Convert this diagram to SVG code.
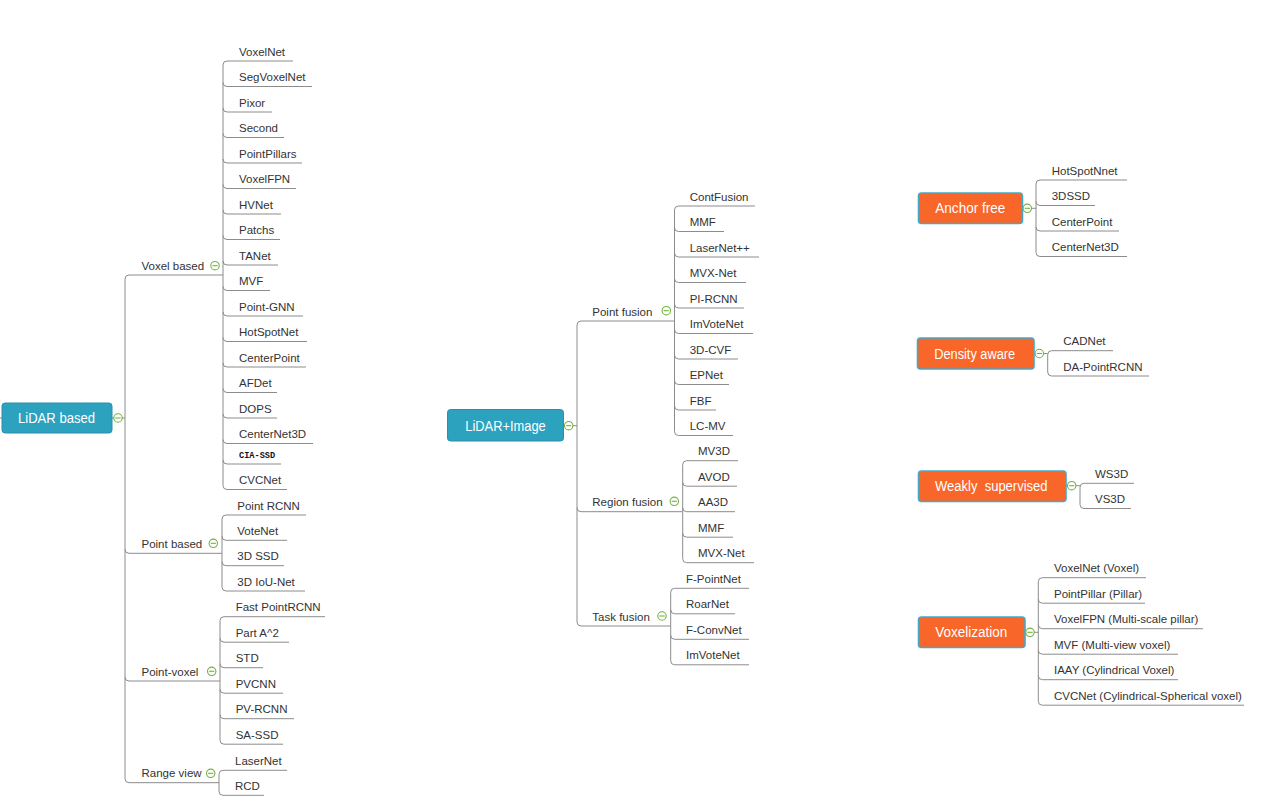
<svg xmlns="http://www.w3.org/2000/svg" width="1280" height="810" viewBox="0 0 1280 810">
<style>
.t{font-family:"Liberation Sans",Arial,sans-serif;font-size:11.5px;fill:#333}
.m{font-family:"Liberation Mono","DejaVu Sans Mono",monospace;font-size:8.6px;font-weight:bold;fill:#111}
.b{font-family:"Liberation Sans",Arial,sans-serif;font-size:14px;fill:#fff;text-anchor:middle}
.ln{fill:none;stroke:#8c8c8c;stroke-width:1}
.rt{fill:#2da2bf;stroke:#2a8faa;stroke-width:1}
.or{fill:#f8662a;stroke:#45a8c6;stroke-width:1.6}
</style>
<defs>
<g id="ic"><circle r="4.2" fill="#fff" stroke="#72b43e" stroke-width="1.1"/><line x1="-2.6" x2="2.6" y1="0" y2="0" stroke="#72b43e" stroke-width="1.1"/></g>
</defs>
<rect width="1280" height="810" fill="#fff"/>
<g id="connectors" class="ln">
<path d="M0,418H2M112,418H125"/>
<path d="M125,279V778.7M125,279Q125,275 129,275H223M125,549.3Q125,553.3 129,553.3H222M125,677Q125,681 129,681H220M125,778.7Q125,782.7 129,782.7H219"/>
<path d="M223,65V485.5M223,65Q223,61 227,61H293M223,82.5Q223,86.5 227,86.5H312M223,108Q223,112 227,112H272M223,133.5Q223,137.5 227,137.5H284M223,159Q223,163 227,163H302M223,184.5Q223,188.5 227,188.5H296M223,210Q223,214 227,214H281M223,235.5Q223,239.5 227,239.5H280M223,261Q223,265 227,265H278M223,286.5Q223,290.5 227,290.5H270M223,312Q223,316 227,316H303M223,337.5Q223,341.5 227,341.5H307M223,363Q223,367 227,367H306M223,388.5Q223,392.5 227,392.5H277M223,414Q223,418 227,418H277M223,439.5Q223,443.5 227,443.5H313M223,460Q223,464 227,464H281M223,485.5Q223,489.5 227,489.5H287"/>
<path d="M222,519V587M222,519Q222,515 226,515H306M222,536.3Q222,540.3 226,540.3H287M222,561.7Q222,565.7 226,565.7H284M222,587Q222,591 226,591H305"/>
<path d="M220,620.7V740.2M220,620.7Q220,616.7 224,616.7H325M220,638.2Q220,642.2 224,642.2H289M220,663.7Q220,667.7 224,667.7H263M220,689.2Q220,693.2 224,693.2H283M220,714.7Q220,718.7 224,718.7H294M220,740.2Q220,744.2 224,744.2H283"/>
<path d="M219,774.3V791.3M219,774.3Q219,770.3 223,770.3H287M219,791.3Q219,795.3 223,795.3H264"/>
<path d="M563,425.7H577M577,325V622M577,325Q577,321 581,321H674.5M577,507.7Q577,511.7 581,511.7H682.7M577,622Q577,626 581,626H670.7"/>
<path d="M674.5,210V431.5M674.5,210Q674.5,206 678.5,206H755M674.5,227.5Q674.5,231.5 678.5,231.5H724M674.5,253Q674.5,257 678.5,257H759M674.5,278.5Q674.5,282.5 678.5,282.5H746M674.5,304Q674.5,308 678.5,308H744M674.5,329.5Q674.5,333.5 678.5,333.5H753M674.5,355Q674.5,359 678.5,359H738M674.5,380.5Q674.5,384.5 678.5,384.5H729M674.5,406Q674.5,410 678.5,410H716M674.5,431.5Q674.5,435.5 678.5,435.5H733"/>
<path d="M682.7,464.7V558.7M682.7,464.7Q682.7,460.7 686.7,460.7H738M682.7,482.2Q682.7,486.2 686.7,486.2H737M682.7,507.7Q682.7,511.7 686.7,511.7H735M682.7,533.2Q682.7,537.2 686.7,537.2H733M682.7,558.7Q682.7,562.7 686.7,562.7H754"/>
<path d="M670.7,592.3V660.8M670.7,592.3Q670.7,588.3 674.7,588.3H749M670.7,609.8Q670.7,613.8 674.7,613.8H735M670.7,635.3Q670.7,639.3 674.7,639.3H749M670.7,660.8Q670.7,664.8 674.7,664.8H749"/>
<path d="M1022.5,208.3H1036M1036,184V252.5M1036,184Q1036,180 1040,180H1127M1036,201.5Q1036,205.5 1040,205.5H1095M1036,227Q1036,231 1040,231H1119M1036,252.5Q1036,256.5 1040,256.5H1127"/>
<path d="M1034,353.5H1047.7M1047.7,354.7V372M1047.7,354.7Q1047.7,350.7 1051.7,350.7H1113M1047.7,372Q1047.7,376 1051.7,376H1149"/>
<path d="M1066,485.7H1080M1080,487.3V504.5M1080,487.3Q1080,483.3 1084,483.3H1134M1080,504.5Q1080,508.5 1084,508.5H1131"/>
<path d="M1025,632.3H1038.3M1038.3,581.7V701.2M1038.3,581.7Q1038.3,577.7 1042.3,577.7H1146M1038.3,599.2Q1038.3,603.2 1042.3,603.2H1145M1038.3,624.7Q1038.3,628.7 1042.3,628.7H1203M1038.3,650.2Q1038.3,654.2 1042.3,654.2H1178M1038.3,675.7Q1038.3,679.7 1042.3,679.7H1178M1038.3,701.2Q1038.3,705.2 1042.3,705.2H1244"/>
</g>
<g id="lidar-based"><rect class="rt" x="2" y="403" width="110" height="30" rx="3"/><text class="b" x="56.5" y="423" textLength="77" lengthAdjust="spacingAndGlyphs">LiDAR based</text><use href="#ic" x="118" y="418"/></g>
<g id="voxel-based"><text class="t" x="141.5" y="269.5">Voxel based</text><use href="#ic" x="215" y="265.7"/></g>
<g id="vb-voxelnet"><text class="t" x="239" y="55.5">VoxelNet</text></g>
<g id="vb-segvoxelnet"><text class="t" x="239" y="81">SegVoxelNet</text></g>
<g id="vb-pixor"><text class="t" x="239" y="106.5">Pixor</text></g>
<g id="vb-second"><text class="t" x="239" y="132">Second</text></g>
<g id="vb-pointpillars"><text class="t" x="239" y="157.5">PointPillars</text></g>
<g id="vb-voxelfpn"><text class="t" x="239" y="183">VoxelFPN</text></g>
<g id="vb-hvnet"><text class="t" x="239" y="208.5">HVNet</text></g>
<g id="vb-patchs"><text class="t" x="239" y="234">Patchs</text></g>
<g id="vb-tanet"><text class="t" x="239" y="259.5">TANet</text></g>
<g id="vb-mvf"><text class="t" x="239" y="285">MVF</text></g>
<g id="vb-pointgnn"><text class="t" x="239" y="310.5">Point-GNN</text></g>
<g id="vb-hotspotnet"><text class="t" x="239" y="336">HotSpotNet</text></g>
<g id="vb-centerpoint"><text class="t" x="239" y="361.5">CenterPoint</text></g>
<g id="vb-afdet"><text class="t" x="239" y="387">AFDet</text></g>
<g id="vb-dops"><text class="t" x="239" y="412.5">DOPS</text></g>
<g id="vb-centernet3d"><text class="t" x="239" y="438">CenterNet3D</text></g>
<g id="vb-ciassd"><text class="m" x="239" y="458">CIA-SSD</text></g>
<g id="vb-cvcnet"><text class="t" x="239" y="484">CVCNet</text></g>
<g id="point-based"><text class="t" x="141.5" y="547.8">Point based</text><use href="#ic" x="213.3" y="543.3"/></g>
<g id="pb-pointrcnn"><text class="t" x="237.3" y="509.5">Point RCNN</text></g>
<g id="pb-votenet"><text class="t" x="237.3" y="534.8">VoteNet</text></g>
<g id="pb-3dssd"><text class="t" x="237.3" y="560.2">3D SSD</text></g>
<g id="pb-3diounet"><text class="t" x="237.3" y="585.5">3D IoU-Net</text></g>
<g id="point-voxel"><text class="t" x="141.5" y="675.5">Point-voxel</text><use href="#ic" x="211.7" y="671.3"/></g>
<g id="pv-fastpointrcnn"><text class="t" x="235.7" y="611.2">Fast PointRCNN</text></g>
<g id="pv-parta2"><text class="t" x="235.7" y="636.7">Part A^2</text></g>
<g id="pv-std"><text class="t" x="235.7" y="662.2">STD</text></g>
<g id="pv-pvcnn"><text class="t" x="235.7" y="687.7">PVCNN</text></g>
<g id="pv-pvrcnn"><text class="t" x="235.7" y="713.2">PV-RCNN</text></g>
<g id="pv-sassd"><text class="t" x="235.7" y="738.7">SA-SSD</text></g>
<g id="range-view"><text class="t" x="141.5" y="777.2">Range view</text><use href="#ic" x="210.7" y="773.3"/></g>
<g id="rv-lasernet"><text class="t" x="235" y="764.8">LaserNet</text></g>
<g id="rv-rcd"><text class="t" x="235" y="789.8">RCD</text></g>
<g id="lidar-image"><rect class="rt" x="447.5" y="409.5" width="116" height="31.5" rx="3"/><text class="b" x="505.5" y="431" textLength="80.5" lengthAdjust="spacingAndGlyphs">LiDAR+Image</text><use href="#ic" x="568.7" y="425.7"/></g>
<g id="point-fusion"><text class="t" x="592.3" y="315.5">Point fusion</text><use href="#ic" x="666.3" y="310.7"/></g>
<g id="pf-contfusion"><text class="t" x="689.7" y="200.5">ContFusion</text></g>
<g id="pf-mmf"><text class="t" x="689.7" y="226">MMF</text></g>
<g id="pf-lasernetpp"><text class="t" x="689.7" y="251.5">LaserNet++</text></g>
<g id="pf-mvxnet"><text class="t" x="689.7" y="277">MVX-Net</text></g>
<g id="pf-pircnn"><text class="t" x="689.7" y="302.5">PI-RCNN</text></g>
<g id="pf-imvotenet"><text class="t" x="689.7" y="328">ImVoteNet</text></g>
<g id="pf-3dcvf"><text class="t" x="689.7" y="353.5">3D-CVF</text></g>
<g id="pf-epnet"><text class="t" x="689.7" y="379">EPNet</text></g>
<g id="pf-fbf"><text class="t" x="689.7" y="404.5">FBF</text></g>
<g id="pf-lcmv"><text class="t" x="689.7" y="430">LC-MV</text></g>
<g id="region-fusion"><text class="t" x="592.3" y="506.2">Region fusion</text><use href="#ic" x="674.3" y="501.3"/></g>
<g id="rf-mv3d"><text class="t" x="698" y="455.2">MV3D</text></g>
<g id="rf-avod"><text class="t" x="698" y="480.7">AVOD</text></g>
<g id="rf-aa3d"><text class="t" x="698" y="506.2">AA3D</text></g>
<g id="rf-mmf"><text class="t" x="698" y="531.7">MMF</text></g>
<g id="rf-mvxnet"><text class="t" x="698" y="557.2">MVX-Net</text></g>
<g id="task-fusion"><text class="t" x="592.3" y="620.5">Task fusion</text><use href="#ic" x="662" y="616"/></g>
<g id="tf-fpointnet"><text class="t" x="686" y="582.8">F-PointNet</text></g>
<g id="tf-roarnet"><text class="t" x="686" y="608.3">RoarNet</text></g>
<g id="tf-fconvnet"><text class="t" x="686" y="633.8">F-ConvNet</text></g>
<g id="tf-imvotenet"><text class="t" x="686" y="659.3">ImVoteNet</text></g>
<g id="anchor-free"><rect class="or" x="918.5" y="193" width="104" height="30.5" rx="3"/><text class="b" x="970.3" y="213.2" textLength="70" lengthAdjust="spacingAndGlyphs">Anchor free</text><use href="#ic" x="1027.3" y="208.3"/></g>
<g id="af-hotspotnnet"><text class="t" x="1051.7" y="174.5">HotSpotNnet</text></g>
<g id="af-3dssd"><text class="t" x="1051.7" y="200">3DSSD</text></g>
<g id="af-centerpoint"><text class="t" x="1051.7" y="225.5">CenterPoint</text></g>
<g id="af-centernet3d"><text class="t" x="1051.7" y="251">CenterNet3D</text></g>
<g id="density-aware"><rect class="or" x="917.5" y="338" width="116.5" height="31" rx="3"/><text class="b" x="974.7" y="358.5" textLength="81" lengthAdjust="spacingAndGlyphs">Density aware</text><use href="#ic" x="1039.3" y="353.5"/></g>
<g id="da-cadnet"><text class="t" x="1063.3" y="345.2">CADNet</text></g>
<g id="da-dapointrcnn"><text class="t" x="1063.3" y="370.5">DA-PointRCNN</text></g>
<g id="weakly-supervised"><rect class="or" x="918.5" y="471" width="147.5" height="30.5" rx="3"/><text class="b" x="991.3" y="491.2" textLength="112.5" lengthAdjust="spacingAndGlyphs" xml:space="preserve">Weakly  supervised</text><use href="#ic" x="1071.7" y="485.7"/></g>
<g id="ws-ws3d"><text class="t" x="1095" y="477.8">WS3D</text></g>
<g id="ws-vs3d"><text class="t" x="1095" y="503">VS3D</text></g>
<g id="voxelization"><rect class="or" x="918.5" y="617" width="106.5" height="30.5" rx="3"/><text class="b" x="971.2" y="637.3" textLength="72" lengthAdjust="spacingAndGlyphs">Voxelization</text><use href="#ic" x="1030" y="632.3"/></g>
<g id="vx-voxelnet"><text class="t" x="1054" y="572.2">VoxelNet (Voxel)</text></g>
<g id="vx-pointpillar"><text class="t" x="1054" y="597.7">PointPillar (Pillar)</text></g>
<g id="vx-voxelfpn"><text class="t" x="1054" y="623.2">VoxelFPN (Multi-scale pillar)</text></g>
<g id="vx-mvf"><text class="t" x="1054" y="648.7">MVF (Multi-view voxel)</text></g>
<g id="vx-iaay"><text class="t" x="1054" y="674.2">IAAY (Cylindrical Voxel)</text></g>
<g id="vx-cvcnet"><text class="t" x="1054" y="699.7">CVCNet (Cylindrical-Spherical voxel)</text></g>
</svg>
